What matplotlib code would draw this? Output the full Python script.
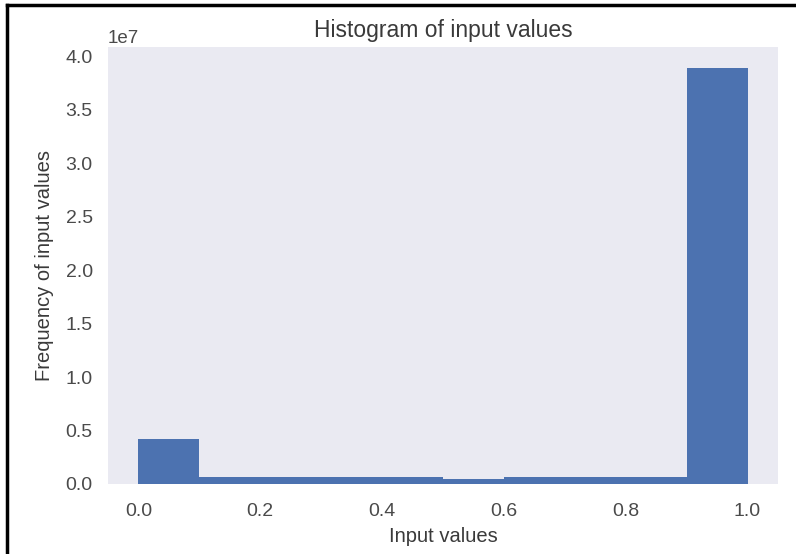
import matplotlib
matplotlib.use("Agg")
import matplotlib.pyplot as plt
from matplotlib.lines import Line2D
import numpy as np

bin_edges = [0.0, 0.1, 0.2, 0.3, 0.4, 0.5, 0.6, 0.7, 0.8, 0.9, 1.0]
counts = [4.19e6, 0.63e6, 0.63e6, 0.63e6, 0.63e6, 0.44e6, 0.63e6, 0.63e6, 0.63e6, 3.89e7]
title = "Histogram of input values"
xlabel = "Input values"
ylabel = "Frequency of input values"

plt.rcParams['font.family'] = ['Liberation Sans', 'DejaVu Sans']

fig = plt.figure(figsize=(7.96, 5.54), dpi=100)
ax = fig.add_axes([108/796, 1-484/554, (778-108)/796, (484-47)/554])
ax.set_facecolor('#EAEAF2')
for s in ax.spines.values():
    s.set_visible(False)

centers = [(a + b) / 2 for a, b in zip(bin_edges[:-1], bin_edges[1:])]
ax.hist(centers, bins=bin_edges, weights=counts, color='#4C72B0')

ax.set_xticks([0.0, 0.2, 0.4, 0.6, 0.8, 1.0])
ax.set_yticks(np.arange(0, 4.01e7, 0.5e7))
ax.tick_params(length=0, labelsize=14, labelcolor='#4a4a4a')
ax.tick_params(axis='x', pad=14)
ax.tick_params(axis='y', pad=11)
ax.yaxis.get_offset_text().set_fontsize(13.5)
ax.yaxis.get_offset_text().set_color('#4a4a4a')
ax.set_title(title, fontsize=16.5, color='#3a3a3a', pad=7)
ax.set_xlabel(xlabel, fontsize=14.5, color='#3a3a3a', labelpad=5)
ax.set_ylabel(ylabel, fontsize=14.5, color='#3a3a3a', labelpad=8)
ax.grid(False)

fig.add_artist(Line2D([7/796, 7/796], [0, 1-5/554], color='black', lw=2.5, transform=fig.transFigure))
fig.add_artist(Line2D([7/796, 1], [1-5/554, 1-5/554], color='black', lw=2.5, transform=fig.transFigure))

fig.savefig("out.png", dpi=100, facecolor='white')
